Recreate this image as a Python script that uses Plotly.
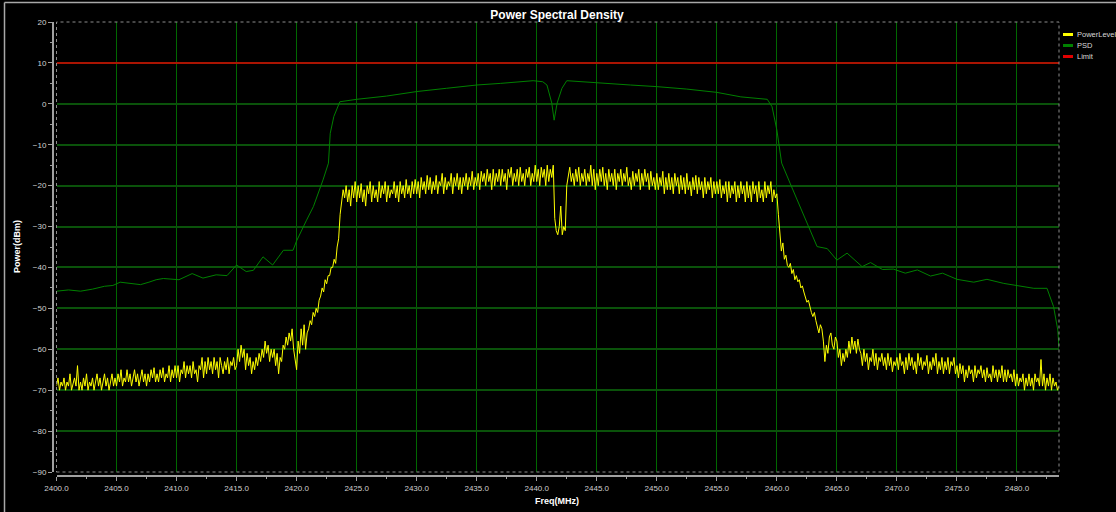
import numpy as np
import plotly.graph_objects as go

# spectrum analyser sweep, 0.125 MHz bins from 2400.0 MHz
freq_start = 2400.0
freq_step = 0.125

power_level = [
    # 2400 - 2405
    -69, -67, -70, -68, -69, -67, -70, -68,
    -69, -66, -70, -68, -67, -69, -64, -70,
    -68, -70, -67, -69, -66, -70, -68, -69,
    -67, -70, -68, -66, -69, -67, -70, -68,
    -66, -69, -67, -70, -68, -66, -69, -67,
    # 2405 - 2410
    -69, -66, -68, -65, -69, -67, -68, -65,
    -68, -66, -69, -67, -65, -68, -66, -69,
    -67, -65, -68, -66, -69, -66, -68, -65,
    -67, -64.5, -68, -66, -68, -65, -67, -64.5,
    -68, -66, -67, -64, -68, -65, -67, -64,
    # 2410 - 2415
    -67, -64, -68, -65, -66, -63, -67, -64,
    -66, -64, -67, -63, -66, -65, -68, -64,
    -65, -62, -67, -63, -66, -62, -65, -63,
    -66, -62, -65, -63, -67, -62, -64, -66,
    -63, -65, -62, -66, -63, -64, -62, -65,
    # 2415 - 2420
    -64, -60, -63, -59, -62, -60, -65, -61,
    -64, -62, -66, -63, -65, -62, -64, -61,
    -63, -60, -62, -58, -61, -59, -63, -60,
    -62, -60, -64, -61, -66, -62, -63, -59,
    -60, -57, -59, -56, -58, -55, -60, -63,
    # 2420 - 2425
    -65, -58, -61, -55, -59, -54, -60, -56,
    -55, -53, -54, -51, -52, -50, -51, -48,
    -47, -45, -46, -43, -44, -42, -42, -40,
    -40, -38, -39, -35, -33, -27, -24, -21,
    -23, -20, -24, -21, -25, -20, -23, -19,
    # 2425 - 2430
    -24, -20, -23, -19.5, -24, -21, -25, -20,
    -22, -19, -24, -20, -23, -21, -24, -19,
    -23, -20, -22, -19, -24, -20, -23, -21,
    -22, -19, -23, -20, -24, -19, -22, -20,
    -23, -18.5, -22, -20, -23, -19, -22, -18.5,
    # 2430 - 2435
    -22, -19, -23, -18, -21, -19, -22, -17.5,
    -21, -18, -22, -19, -21, -17.5, -22, -19,
    -20, -17, -22, -18, -21, -19, -20, -17,
    -22, -18, -20, -17, -21, -18, -22, -18,
    -20, -17, -21, -18, -20, -16.5, -21, -18,
    # 2435 - 2440
    -20, -17, -21, -16.5, -19, -17, -20, -16,
    -19, -17, -21, -16, -20, -17, -19, -16,
    -20, -16, -19, -17, -21, -16, -18, -15.5,
    -20, -17, -19, -16, -20, -15.5, -19, -17,
    -20, -16, -18, -15.5, -20, -17, -19, -15,
    # 2440 - 2445
    -19, -16, -20, -15.5, -18, -16, -20, -15,
    -19, -16, -18, -15, -28, -31, -32, -30,
    -25, -32, -30, -31, -20, -17, -15.5, -19,
    -17, -20, -16, -19, -15.5, -20, -17, -19,
    -16, -20, -17, -19, -15, -20, -16, -21,
    # 2445 - 2450
    -17, -20, -16, -19, -15.5, -20, -17, -21,
    -16, -19, -17, -20, -16, -21, -17, -19,
    -16, -20, -17, -19, -15.5, -20, -18, -21,
    -16.5, -20, -17, -19, -16, -21, -17, -20,
    -16, -19, -17, -21, -16.5, -20, -18, -21,
    # 2450 - 2455
    -17, -21, -18, -20, -16.5, -22, -18, -21,
    -17, -21, -18, -22, -17, -20, -18, -22,
    -17.5, -21, -18, -22, -17, -21, -19, -22.5,
    -18, -21, -17.5, -22, -18, -21, -19, -23,
    -18, -22, -19, -21, -18, -23, -19, -22,
    # 2455 - 2460
    -19, -22, -18.5, -23, -20, -22, -19, -24,
    -19, -23, -20, -22, -19, -24, -20, -23,
    -19, -22, -20, -24, -19, -23, -20, -24,
    -19, -22, -20, -24, -19, -23, -21, -24,
    -19, -23, -20, -22, -19, -24, -21, -23,
    # 2460 - 2465
    -22, -27, -33, -36, -34, -38, -37, -39.5,
    -40, -39, -41.5, -40.5, -43, -42, -43.5, -43,
    -45, -44.5, -46, -47, -48.5, -48, -50, -51,
    -52, -51, -53, -55, -56, -54, -55, -58,
    -63, -59, -61, -57, -56, -59, -60, -57,
    # 2465 - 2470
    -58, -62, -60, -64, -61, -63, -60, -62,
    -58, -61, -57, -60, -58, -61, -57.5, -60,
    -61, -64, -60, -63, -61, -65, -62, -63,
    -60, -64, -61, -65, -62, -63, -61, -64,
    -62, -65, -61, -64, -62, -65.5, -63, -64,
    # 2470 - 2475
    -62, -65, -61, -64, -63, -66, -62, -65,
    -61, -64, -62, -65, -63, -66, -61, -64,
    -62, -65, -63, -64, -61.5, -66, -63, -65,
    -62, -64, -61, -66, -63, -65, -62, -66,
    -63, -65, -62, -66, -63, -64, -62, -66,
    # 2475 - 2480
    -64, -67, -63.5, -66, -64, -68, -65, -67,
    -64, -66, -65, -68, -64, -67, -65, -66,
    -64, -67, -65, -68, -64.5, -67, -66, -68,
    -64, -67, -65, -68, -65, -67, -64, -68,
    -65, -68, -65, -67, -66, -68, -65, -69,
    # 2480 - 2483.5
    -66, -69, -67, -68, -66, -70, -67, -69,
    -66, -69, -67, -70, -66, -68, -67, -69,
    -62.5, -69, -66, -70, -67, -69, -66, -70,
    -67, -69, -68, -70, -69,
]
freq = freq_start + freq_step * np.arange(len(power_level))

psd_freq = [2400, 2401, 2402, 2403, 2404, 2404.7, 2405.3, 2406, 2407, 2407.7,
            2408.3, 2408.9, 2409.6, 2410.2, 2411.3, 2412.2, 2413.3, 2414.2, 2415.0, 2415.8,
            2416.4, 2417.2, 2418.0, 2418.9, 2419.7, 2420.0, 2420.8, 2421.4, 2422.2, 2422.65,
            2422.8, 2423.1, 2423.6, 2425.0, 2427.5, 2430.0, 2432.5, 2435.0, 2437.0, 2439.7,
            2440.5, 2440.85, 2441.25, 2441.45, 2441.7, 2442.1, 2442.5, 2444.5, 2447.8, 2450.0,
            2452.5, 2455.0, 2457.0, 2459.2, 2459.6, 2460.0, 2460.2, 2460.4, 2461.1, 2462.5,
            2463.35, 2464.2, 2465.0, 2465.85, 2467.1, 2467.8, 2468.8, 2469.7, 2470.7, 2471.7,
            2472.8, 2473.8, 2475.0, 2476.4, 2477.5, 2478.9, 2480.3, 2481.4, 2482.5, 2483.05,
            2483.4, 2483.5]
psd_db = [-45.8, -45.5, -45.8, -45.3, -44.6, -44.4, -43.6, -43.9, -44.2, -43.6,
          -43.0, -42.7, -42.9, -43.0, -41.5, -42.6, -41.8, -42.0, -39.4, -41.0,
          -40.7, -37.4, -39.4, -35.8, -35.8, -33.5, -28.6, -25.1, -18.6, -14.5,
          -7.2, -3.1, 0.5, 1.1, 1.9, 3.0, 3.8, 4.6, 5.0, 5.65,
          5.4, 4.6, 0.2, -4.0, 0.2, 3.8, 5.65, 5.2, 4.6, 4.2,
          3.6, 2.8, 1.7, 1.1, -0.7, -6.4, -10.5, -14.5, -19.4, -29.2,
          -34.9, -35.4, -38.2, -36.5, -39.8, -38.8, -40.5, -40.4, -41.4, -40.6,
          -42.1, -41.4, -42.9, -43.6, -42.9, -43.9, -44.5, -45.1, -45.1, -49.6,
          -55.3, -59.8]

limit_freq = [2400.0, 2483.5]
limit_db = [10, 10]

series_names = ["PowerLevel", "PSD", "Limit"]
series_colors = ["#ffff00", "#008000", "#e00000"]

# pixel layout helpers (plot frame: left axis at x=53, bottom axis at y=476)
L, R, T, B = 53, 57, 22, 36
W, H = 1116 - L - R, 512 - T - B
def px_x(p):
    return (p - L) / W
def px_y(p):
    return (512 - B - p) / H

fig = go.Figure()
fig.add_trace(go.Scatter(x=freq, y=power_level, mode="lines", name=series_names[0],
                         line=dict(color=series_colors[0], width=1)))
fig.add_trace(go.Scatter(x=psd_freq, y=psd_db, mode="lines", name=series_names[1],
                         line=dict(color=series_colors[1], width=1)))
fig.add_trace(go.Scatter(x=limit_freq, y=limit_db, mode="lines", name=series_names[2],
                         line=dict(color=series_colors[2], width=1.5)))

tick_font = dict(family="Liberation Sans, Arial", size=8, color="#d0d0d0")
fig.update_layout(
    width=1116, height=512,
    margin=dict(l=L, r=R, t=T, b=B),
    paper_bgcolor="black", plot_bgcolor="black",
    showlegend=False,
    title=dict(text="<b>Power Spectral Density</b>", x=557 / 1116, xanchor="center",
               y=1 - 14.5 / 512, yanchor="middle",
               font=dict(family="Liberation Sans, Arial", size=12, color="white")),
    xaxis=dict(range=[2400, 2483.5], domain=[3.5 / W, 1], anchor="free", position=0,
               dtick=5, tick0=2400, tickformat=".1f", showgrid=True,
               gridcolor="#006800", gridwidth=1, zeroline=False,
               showline=True, linecolor="#a0a0a0", linewidth=2,
               ticks="outside", ticklen=4, tickcolor="#a0a0a0", tickfont=tick_font,
               minor=dict(ticks="outside", ticklen=2, tickcolor="#a0a0a0", dtick=2.5,
                          showgrid=False)),
    yaxis=dict(range=[-90, 20], domain=[4 / H, 1], anchor="free", position=0,
               dtick=10, tick0=0, showgrid=True, gridcolor="#0a520a", gridwidth=2,
               zeroline=False, showline=True, linecolor="#a0a0a0", linewidth=2,
               ticks="outside", ticklen=4, tickcolor="#a0a0a0", tickfont=tick_font,
               minor=dict(ticks="outside", ticklen=2, tickcolor="#a0a0a0", dtick=5,
                          showgrid=False)),
)

shapes = [
    # dotted plot frame
    dict(type="rect", xref="paper", yref="paper", x0=3.5 / W, x1=1, y0=4 / H, y1=1,
         line=dict(color="#8c8c8c", width=1, dash="dot"), layer="above"),
    # window border
    dict(type="line", xref="paper", yref="paper", x0=px_x(4.5), x1=px_x(4.5),
         y0=px_y(2.5), y1=px_y(512), line=dict(color="#a8a8a8", width=1.5)),
    dict(type="line", xref="paper", yref="paper", x0=px_x(4.5), x1=px_x(1116),
         y0=px_y(2.5), y1=px_y(2.5), line=dict(color="#a8a8a8", width=1.5)),
]
annotations = [
    dict(text="<b>Freq(MHz)</b>", xref="paper", yref="paper", x=px_x(557), y=px_y(494),
         xanchor="center", yanchor="top", showarrow=False,
         font=dict(family="Liberation Sans, Arial", size=9, color="white")),
    dict(text="<b>Power(dBm)</b>", xref="paper", yref="paper", x=px_x(17), y=px_y(247),
         xanchor="center", yanchor="middle", textangle=-90, showarrow=False,
         font=dict(family="Liberation Sans, Arial", size=9, color="white")),
]
# hand-drawn legend to match the compact original
for i, (name, color) in enumerate(zip(series_names, series_colors)):
    ypos = 34.5 + 11 * i
    shapes.append(dict(type="line", xref="paper", yref="paper", x0=px_x(1063), x1=px_x(1073),
                       y0=px_y(ypos), y1=px_y(ypos), line=dict(color=color, width=3)))
    annotations.append(dict(text=name, xref="paper", yref="paper", x=px_x(1075), y=px_y(ypos),
                            xanchor="left", yanchor="middle", showarrow=False,
                            font=dict(family="Liberation Sans, Arial", size=7.5,
                                      color="#d8d8d8")))
fig.update_layout(shapes=shapes, annotations=annotations)

# drop the default page margin so the 1116x512 figure fills the window exactly
fig.write_html("out.html", config={"displayModeBar": False},
               post_script="document.body.style.margin='0';"
                           "document.body.style.background='black';")
